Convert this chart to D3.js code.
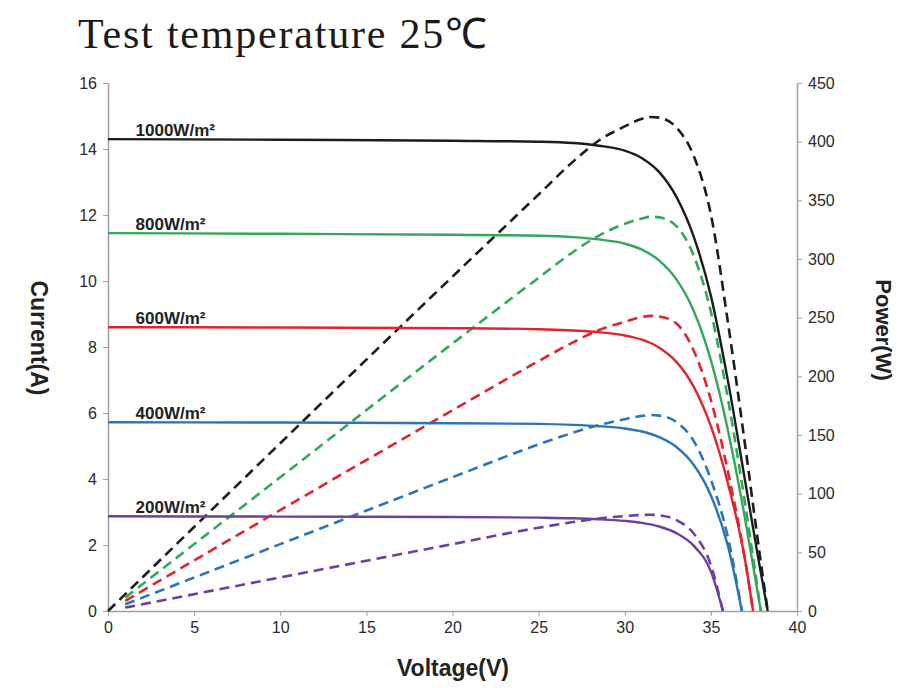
<!DOCTYPE html>
<html>
<head>
<meta charset="utf-8">
<script src="https://cdn.jsdelivr.net/npm/d3@7"></script>
<style>
  body { margin: 0; background: #fff; }
  svg { display: block; }
</style>
</head>
<body>
<svg id="chart" width="922" height="688"></svg>
<script>
// irradiance levels, top to bottom
const levels = ["1000W/m²", "800W/m²", "600W/m²", "400W/m²", "200W/m²"];
const colors = ["#1c1c1c", "#33a85a", "#e2232e", "#2b74b9", "#6f3fa0"];

// I-V curves
const ivVolt = [
  [0, 10, 20, 25, 27, 28.5, 30, 31, 32, 33, 34, 35, 36, 37, 37.8, 38.3],
  [0, 10, 20, 25, 27, 28.5, 30, 31, 32, 33, 34, 35, 36, 37, 37.9],
  [0, 10, 20, 25, 27, 28.5, 30, 31, 32, 33, 34, 35, 36, 37, 37.45],
  [0, 10, 20, 25, 27, 28.5, 30, 31, 32, 33, 34, 35, 36, 36.8],
  [0, 10, 20, 25, 27, 28.5, 30, 31, 32, 33, 34, 35, 35.7]
];
const ivCurr = [
  [14.3, 14.28, 14.25, 14.22, 14.18, 14.1, 13.95, 13.72, 13.3, 12.55, 11.35, 9.55, 6.95, 3.9, 1.45, 0],
  [11.45, 11.43, 11.4, 11.37, 11.33, 11.26, 11.13, 10.95, 10.62, 10.05, 9.1, 7.6, 5.45, 2.75, 0],
  [8.6, 8.59, 8.57, 8.54, 8.5, 8.45, 8.35, 8.22, 7.98, 7.55, 6.8, 5.6, 3.85, 1.5, 0],
  [5.72, 5.71, 5.69, 5.67, 5.64, 5.6, 5.53, 5.44, 5.27, 4.97, 4.43, 3.5, 1.95, 0],
  [2.87, 2.86, 2.85, 2.83, 2.81, 2.78, 2.73, 2.67, 2.56, 2.36, 1.98, 1.2, 0]
];

// P-V curves
const pvVolt = [
  [0, 10, 20, 25, 27, 28.5, 30, 31, 31.5, 32, 33, 34, 35, 36, 37, 37.8, 38.3],
  [1, 10, 20, 25, 27, 28.5, 30, 31, 31.5, 32, 33, 34, 35, 36, 37, 37.9],
  [1, 10, 20, 25, 27, 28.5, 30, 31, 31.5, 32, 33, 34, 35, 36, 37, 37.45],
  [1, 10, 20, 25, 27, 28.5, 30, 31, 31.5, 32, 33, 34, 35, 36, 36.8],
  [1, 10, 20, 25, 27, 28.5, 30, 31, 31.5, 32, 33, 34, 35, 35.7]
];
const pvPow = [
  [0, 143, 285, 355, 383, 401, 413, 419.5, 421, 420.5, 412, 388, 338, 245, 140, 52, 0],
  [11.4, 114, 228, 284, 306, 320, 330, 334.5, 336, 335.5, 328, 303, 255, 180, 90, 0],
  [8.6, 86, 171, 213, 229, 239.5, 246.5, 250.5, 251.5, 251, 245, 222, 180, 118, 42, 0],
  [5.7, 57, 114, 142, 152, 158.5, 163.5, 166.3, 167, 166.5, 161, 145, 112, 62, 0],
  [2.9, 28.6, 57, 71, 75.8, 78.9, 80.9, 81.8, 82, 81.6, 77.5, 66, 39, 0]
];

const xTicks = [0, 5, 10, 15, 20, 25, 30, 35, 40];
const yTicks = [0, 2, 4, 6, 8, 10, 12, 14, 16];
const pTicks = [0, 50, 100, 150, 200, 250, 300, 350, 400, 450];

const svg = d3.select("#chart");
const m = { left: 108, right: 797, top: 83, bottom: 611 };

const x = d3.scaleLinear().domain([0, 40]).range([m.left, m.right]);
const y = d3.scaleLinear().domain([0, 16]).range([m.bottom, m.top]);
const yp = d3.scaleLinear().domain([0, 450]).range([m.bottom, m.top]);

const tickFont = "Liberation Sans, Arial, sans-serif";
const axisCol = "#a0a0a0";

// title
svg.append("text")
  .attr("x", 78).attr("y", 48)
  .attr("font-family", "Liberation Serif, Times New Roman, serif")
  .attr("font-size", 42)
  .attr("letter-spacing", 1.8)
  .attr("fill", "#1a1a1a")
  .text("Test temperature 25℃");

// axes
const gx = svg.append("g").attr("transform", `translate(0,${m.bottom})`)
  .call(d3.axisBottom(x).tickValues(xTicks).tickSize(5).tickPadding(6).tickSizeOuter(0));
const gy = svg.append("g").attr("transform", `translate(${m.left},0)`)
  .call(d3.axisLeft(y).tickValues(yTicks).tickSize(5).tickPadding(6).tickSizeOuter(0));
const gp = svg.append("g").attr("transform", `translate(${m.right},0)`)
  .call(d3.axisRight(yp).tickValues(pTicks).tickSize(5).tickPadding(6).tickSizeOuter(0));

[gx, gy, gp].forEach(g => {
  g.select(".domain").attr("stroke", axisCol).attr("stroke-width", 1.5);
  g.selectAll(".tick line").attr("stroke", axisCol).attr("stroke-width", 1);
  g.selectAll(".tick text")
    .attr("font-family", tickFont)
    .attr("font-size", 16)
    .attr("fill", "#2a2a2a");
});

// axis titles
const labFont = "Liberation Sans Narrow, Arial Narrow, Liberation Sans, sans-serif";
svg.append("text")
  .attr("transform", `translate(31,338) rotate(90)`)
  .attr("text-anchor", "middle")
  .attr("font-family", labFont).attr("font-weight", "bold")
  .attr("font-size", 23).attr("fill", "#222")
  .text("Current(A)");
svg.append("text")
  .attr("transform", `translate(876,330) rotate(90)`)
  .attr("text-anchor", "middle")
  .attr("font-family", labFont).attr("font-weight", "bold")
  .attr("font-size", 22).attr("fill", "#222")
  .text("Power(W)");
svg.append("text")
  .attr("x", 453).attr("y", 676)
  .attr("text-anchor", "middle")
  .attr("font-family", labFont).attr("font-weight", "bold")
  .attr("font-size", 23).attr("fill", "#222")
  .text("Voltage(V)");

const line = d3.line().curve(d3.curveMonotoneX);

// power curves (dashed)
levels.forEach((lev, i) => {
  const pts = pvVolt[i].map((v, j) => [x(v), yp(pvPow[i][j])]);
  svg.append("path")
    .attr("d", line(pts))
    .attr("fill", "none")
    .attr("stroke", colors[i])
    .attr("stroke-width", 2.6)
    .attr("stroke-dasharray", "10,6");
});

// current curves (solid)
levels.forEach((lev, i) => {
  const pts = ivVolt[i].map((v, j) => [x(v), y(ivCurr[i][j])]);
  svg.append("path")
    .attr("d", line(pts))
    .attr("fill", "none")
    .attr("stroke", colors[i])
    .attr("stroke-width", 2.4);
});

// irradiance labels
levels.forEach((lev, i) => {
  svg.append("text")
    .attr("x", x(1.6)).attr("y", y(ivCurr[i][0]) - 3)
    .attr("font-family", labFont).attr("font-weight", "bold")
    .attr("font-size", 17).attr("fill", "#222")
    .text(lev);
});
</script>
</body>
</html>
